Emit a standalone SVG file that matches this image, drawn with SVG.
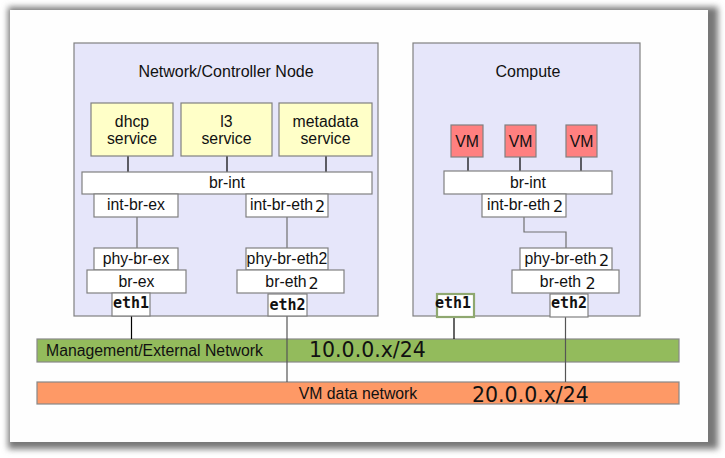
<svg xmlns="http://www.w3.org/2000/svg" width="725" height="458" viewBox="0 0 725 458">
<defs>
<filter id="sh" x="-5%" y="-5%" width="110%" height="110%"><feGaussianBlur stdDeviation="3"/></filter>
</defs>
<style>
text{font-family:"Liberation Sans",Arial,sans-serif;font-size:15.8px;fill:#111;text-anchor:middle}
.node{fill:#e6e6fa;stroke:#808080;stroke-width:1.2}
.svc{fill:#ffffc8;stroke:#808080;stroke-width:1.2}
.vm{fill:#ff8080;stroke:#808080;stroke-width:1.2}
.box{fill:#fff;stroke:#808080;stroke-width:1.2}
.eth{font-family:"DejaVu Sans Mono",monospace;font-weight:bold;font-size:15px}
.two{font-family:"DejaVu Sans",sans-serif;font-size:16px}
.ip{font-family:"DejaVu Sans",sans-serif;font-size:20.5px;text-anchor:start}
.blk{stroke:#000;stroke-width:1.2;fill:none}
.gry{stroke:#707070;stroke-width:1.2;fill:none}
</style>
<rect x="8" y="7" width="710" height="442" fill="#777" filter="url(#sh)"/>
<rect x="10" y="10" width="698" height="432" fill="#fefefe"/>

<g id="net-external">
<rect x="37" y="339" width="642" height="23" fill="#93bb5c" stroke="#888" stroke-width="1.2"/>
<text x="46" y="356" style="text-anchor:start">Management/External Network</text>
<text class="ip" x="309" y="357">10.0.0.x/24</text>
</g>
<g id="net-data">
<rect x="37" y="382" width="642" height="22" fill="#fe9966" stroke="#888" stroke-width="1.2"/>
<text x="358" y="399">VM data network</text>
<text class="ip" x="472" y="402">20.0.0.x/24</text>
</g>

<g id="network-node">
<rect class="node" x="74" y="43" width="304" height="273"/>
<text x="226" y="77" style="font-size:16px">Network/Controller Node</text>
</g>
<g id="compute-node">
<rect class="node" x="413" y="43" width="227" height="273"/>
<text x="528" y="77" style="font-size:16px">Compute</text>
</g>

<g id="connectors">
<path class="blk" d="M128 156V172M227 156V172M326 156V172"/>
<path class="gry" d="M137 217V248M287 217V248"/>
<path class="blk" d="M468 157V172M520 157V172M581 157V172"/>
<path class="gry" d="M524 217V232H566V248"/>
<path class="blk" d="M131.5 316V339M454 317V339"/>
<path class="gry" d="M287 316V382M565.5 317V382" style="stroke:#555"/>
</g>

<g id="dhcp"><rect class="svc" x="91" y="103" width="82" height="53"/><text x="132" y="127">dhcp</text><text x="132" y="144">service</text></g>
<g id="l3"><rect class="svc" x="181" y="103" width="91" height="53"/><text x="226.5" y="127">l3</text><text x="226.5" y="144">service</text></g>
<g id="metadata"><rect class="svc" x="279" y="103" width="93" height="53"/><text x="325.5" y="127">metadata</text><text x="325.5" y="144">service</text></g>

<g id="br-int-net"><rect class="box" x="82" y="172" width="290" height="22"/><text x="227" y="188">br-int</text></g>
<g id="int-br-ex"><rect class="box" x="94" y="194" width="84" height="23"/><text x="136" y="210">int-br-ex</text></g>
<g id="int-br-eth2-net"><rect class="box" x="246" y="194" width="82" height="23"/><text x="281.5" y="210">int-br-eth</text><text class="two" x="320" y="212">2</text></g>
<g id="phy-br-ex"><rect class="box" x="94" y="248" width="84" height="22"/><text x="136" y="264">phy-br-ex</text></g>
<g id="br-ex"><rect class="box" x="87" y="270" width="99" height="23"/><text x="136.5" y="287">br-ex</text></g>
<g id="eth1-net"><rect class="box" x="112" y="293" width="38" height="23"/><text class="eth" x="131" y="308">eth1</text></g>
<g id="phy-br-eth2-net"><rect class="box" x="246" y="248" width="82" height="22"/><text x="287" y="264">phy-br-eth2</text></g>
<g id="br-eth2-net"><rect class="box" x="237" y="270" width="107" height="23"/><text x="286" y="287">br-eth</text><text class="two" x="313.5" y="289">2</text></g>
<g id="eth2-net"><rect class="box" x="268" y="294" width="39" height="22"/><text class="eth" x="287.5" y="310">eth2</text></g>

<g id="vm1"><rect class="vm" x="451" y="125" width="32" height="32"/><text x="467" y="147">VM</text></g>
<g id="vm2"><rect class="vm" x="505" y="125" width="31" height="32"/><text x="520.5" y="147">VM</text></g>
<g id="vm3"><rect class="vm" x="566" y="125" width="31" height="32"/><text x="581.5" y="147">VM</text></g>
<g id="br-int-cmp"><rect class="box" x="444" y="171" width="168" height="23"/><text x="528" y="188">br-int</text></g>
<g id="int-br-eth2-cmp"><rect class="box" x="482" y="194" width="84" height="23"/><text x="518.5" y="210">int-br-eth</text><text class="two" x="558" y="212">2</text></g>
<g id="phy-br-eth2-cmp"><rect class="box" x="520" y="248" width="92" height="22"/><text x="560.5" y="264">phy-br-eth</text><text class="two" x="604" y="266">2</text></g>
<g id="br-eth2-cmp"><rect class="box" x="512" y="270" width="107" height="23"/><text x="560.5" y="287">br-eth</text><text class="two" x="590.5" y="289">2</text></g>
<g id="eth1-cmp"><rect x="437" y="294" width="37" height="23" fill="#fff" stroke="#8fa870" stroke-width="2.2"/><text class="eth" x="453" y="308">eth1</text></g>
<g id="eth2-cmp"><rect class="box" x="550" y="294" width="38" height="23"/><text class="eth" x="569" y="308">eth2</text></g>
</svg>
